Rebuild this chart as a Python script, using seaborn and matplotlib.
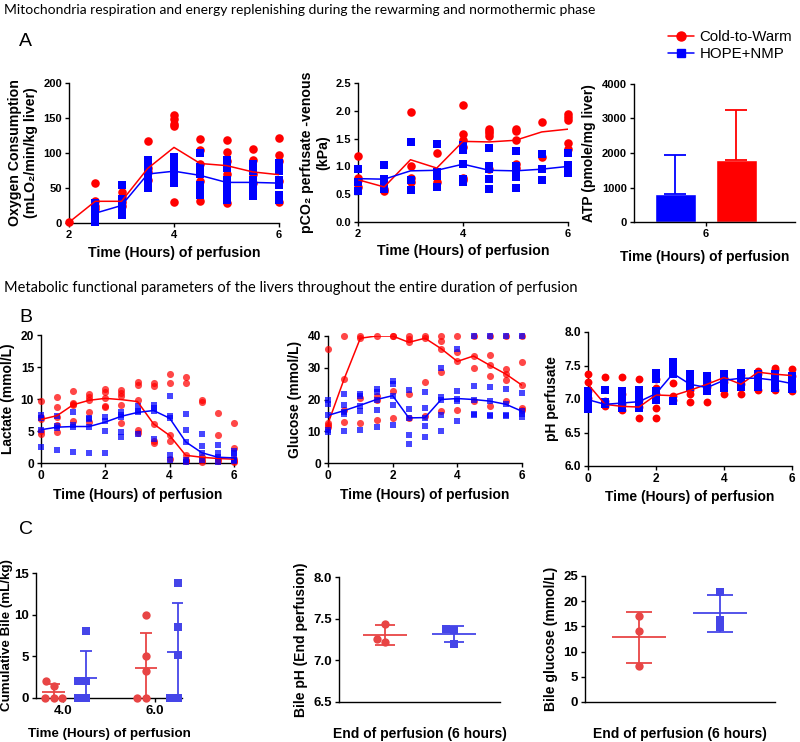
import numpy as np
import pandas as pd
import seaborn as sns
import matplotlib.pyplot as plt
from matplotlib.lines import Line2D
from matplotlib.ticker import FormatStrFormatter

RED = "#ff0000"
BLUE = "#0000ff"
C_RED = "#e84545"
C_BLUE = "#4545e8"

# ---- A: oxygen consumption, pCO2, ATP ----
t_a = [2, 2.5, 3, 3.5, 4, 4.5, 5, 5.5, 6]
o2_red_mean = [1, 31, 31, 78, 108, 85, 82, 73, 69]
o2_blue_mean = [np.nan, 14, 25, 70, 74, 68, 58, 58, 57]
o2_red = [[1], [57, 31, 25, 20], [44, 37, 30, 25], [117, 78, 73, 62],
          [154, 148, 142, 138, 30], [120, 104, 85, 60, 32], [118, 102, 88, 70, 28],
          [106, 90, 70, 57], [121, 97, 89, 60, 30]]
o2_blue = [[], [28, 20, 14, 8, 2], [55, 35, 25, 18, 12], [90, 80, 70, 58, 50],
           [95, 88, 78, 70, 62, 57], [100, 80, 70, 55, 45, 40], [90, 78, 62, 52, 40, 33],
           [85, 75, 62, 50, 42, 38], [86, 75, 62, 54, 40, 33]]

co2_red_mean = [0.76, 0.63, 1.12, 0.97, 1.45, 1.44, 1.47, 1.62, 1.67]
co2_blue_mean = [0.78, 0.77, 0.92, 0.93, 1.04, 0.93, 0.92, 0.95, 1.00]
co2_red = [[1.18, 0.79, 0.75, 0.63], [0.6, 0.56], [1.97, 1.01, 0.79, 0.72], [1.25, 0.72],
           [2.11, 1.59, 1.47, 1.35, 0.8, 0.75], [1.67, 1.64, 1.6, 1.55, 0.95],
           [1.67, 1.64, 1.47, 1.04, 0.98], [1.79, 1.17], [1.95, 1.88, 1.83, 1.42, 1.31]]
co2_blue = [[0.95, 0.72, 0.55], [1.03, 0.77, 0.72, 0.6], [1.44, 0.75, 0.58],
            [1.4, 0.9, 0.82, 0.63], [1.38, 1.3, 1.05, 0.77, 0.72], [1.33, 1.01, 0.95, 0.77, 0.59],
            [1.28, 1.01, 0.93, 0.81, 0.62], [1.23, 0.96, 0.75], [1.24, 1.03, 0.92, 0.88]]

atp_groups = ["HOPE+NMP", "Cold-to-Warm"]
atp_mean = [800, 1800]
atp_sd = [1150, 1460]

# ---- B: lactate, glucose, pH (0-6 h) ----
t_b = [0, 0.5, 1, 1.5, 2, 2.5, 3, 3.5, 4, 4.5, 5, 5.5, 6]
lac_red_mean = [6.8, 7.4, 9.1, 9.8, 10.1, 9.9, 9.6, 6.1, 4.3, 1.2, 0.9, 0.7, 0.6]
lac_blue_mean = [5.2, 5.6, 5.7, 5.7, 6.4, 7.3, 7.9, 8.2, 7.0, 3.3, 1.6, 0.9, 0.8]
lac_red = [[9.7, 7.2, 6.8, 5.0, 4.6], [10.3, 8.8, 7.2, 6.0, 4.8], [11.3, 9.4, 9.0, 9.2, 6.5],
           [10.8, 10.3, 9.9, 8.0, 6.4], [11.6, 11.1, 10.1, 8.9, 8.8], [11.4, 10.9, 10.4, 9.0, 6.3],
           [12.6, 12.2, 9.8, 5.2, 4.7], [12.5, 12.0, 6.1, 3.5, 3.1], [13.9, 12.5, 4.3, 3.4, 0.6],
           [13.4, 12.5, 1.2, 0.5, 0.3], [9.9, 9.6, 0.9, 0.5, 0.2], [7.8, 4.4, 0.7, 0.3],
           [6.3, 2.4, 0.6, 0.3, 0.1]]
lac_blue = [[7.5, 7.0, 5.2, 2.5], [7.3, 5.8, 5.5, 2.1], [8.0, 6.0, 5.6, 1.7], [7.0, 6.8, 5.6, 1.6],
            [7.2, 6.5, 5.0, 1.5], [7.9, 7.5, 7.2, 4.9, 4.1], [8.9, 8.2, 7.9, 4.6], [9.1, 8.6, 8.2, 3.8],
            [10.5, 7.3, 7.0, 1.3, 0.5], [7.7, 5.2, 3.3, 0.5, 0.2], [4.5, 2.6, 1.6, 0.4],
            [2.8, 1.6, 0.9, 0.2], [1.8, 1.5, 0.9, 0.5, 0.3]]

glu_red_mean = [12.4, 26.5, 39.3, 40, 40, 38, 39.3, 36, 32, 33.7, 30.8, 28, 24.5]
glu_blue_mean = [15.0, 16.5, 18.2, 20.0, 21.2, 14.2, 14.3, 20.0, 20.3, 20.0, 19.5, 18.5, 16.3]
glu_red = [[36, 12.5, 12.0, 11.2], [40, 26.5, 16.8, 12.8], [40, 39.5, 20.5, 12.6], [40, 21.0, 20.0, 13.6],
           [40, 40, 22.7, 14.2], [40, 39, 38, 21.8, 14.2], [40, 39.5, 25.4, 14.8],
           [40, 38.5, 36, 28.8, 16.4], [40, 35, 32, 16.7], [40, 33.7, 29.8, 19.6],
           [40, 34, 30.8, 27.4, 17.8], [40, 29.6, 28, 26, 19.4], [40, 31.8, 24.5, 17.4, 16.6]]
glu_blue = [[20, 18.5, 15, 10.5, 9.8], [21.7, 18.3, 16, 15.5, 10.2], [21.8, 21, 18, 16.5, 10.4],
            [23.2, 22.4, 20, 16.8, 11.4], [25.8, 24.8, 21.2, 18.4, 12], [23.1, 17, 14.2, 8.8, 6],
            [22.5, 17.3, 14.3, 11.8, 8.3], [29.8, 20.8, 20, 15.2, 10.2], [36, 22.8, 20.3, 19.5, 13.3],
            [40, 24.2, 20, 15.5, 15], [40, 24, 19.5, 15, 14.8], [40, 23.4, 18.5, 15, 14.8],
            [40, 22, 16.3, 15.5, 14.5]]

ph_red_mean = [7.22, 6.92, 6.89, 6.88, 7.06, 7.05, 7.13, 7.22, 7.32, 7.22, 7.40, 7.37, 7.35]
ph_blue_mean = [6.99, 6.92, 6.94, 6.96, 7.08, 7.38, 7.22, 7.17, 7.28, 7.31, 7.31, 7.28, 7.23]
ph_red = [[7.37, 7.26, 7.12, 7.02], [7.33, 6.97, 6.92, 6.89], [7.33, 7.07, 6.92, 6.83],
          [7.30, 6.98, 6.88, 6.72], [7.30, 7.17, 7.08, 6.86, 6.71], [7.24, 7.05, 6.98],
          [7.13, 7.08, 6.95], [7.27, 7.18, 6.95], [7.32, 7.26, 7.07], [7.36, 7.22, 7.07],
          [7.42, 7.38, 7.14], [7.46, 7.44, 7.13], [7.45, 7.35, 7.12]]
ph_blue = [[7.12, 7.08, 7.0, 6.9, 6.85], [7.13, 6.95, 6.92], [7.12, 7.05, 6.96, 6.9, 6.87],
           [7.14, 7.05, 6.98, 6.92, 6.87], [7.39, 7.3, 7.12, 7.05, 6.98], [7.55, 7.45, 7.38, 6.97],
           [7.38, 7.32, 7.22, 7.18], [7.35, 7.27, 7.18, 7.12], [7.38, 7.3, 7.22, 7.17],
           [7.39, 7.33, 7.27, 7.18], [7.38, 7.3, 7.25, 7.18], [7.37, 7.3, 7.22, 7.16],
           [7.35, 7.28, 7.2, 7.15]]

# ---- C: bile ----
bile_times = ["4.0", "6.0"]
bile_red = [[0, 0, 0, 1.5, 2.0], [10.0, 5.0, 3.2, 0, 0]]
bile_blue = [[8.0, 2.0, 2.0, 0, 0], [13.8, 8.5, 5.2, 0, 0]]
bile_ph_red = [7.44, 7.22, 7.26]
bile_ph_blue = [7.38, 7.36, 7.20]
bile_glu_red = [17.1, 14.1, 7.2]
bile_glu_blue = [21.8, 16.3, 14.8]

sns.set_style("ticks")
plt.rcParams["font.family"] = ["Liberation Sans", "DejaVu Sans"]
plt.rcParams["font.weight"] = "bold"
plt.rcParams["axes.labelweight"] = "bold"
plt.rcParams["axes.edgecolor"] = "black"
plt.rcParams["axes.labelcolor"] = "black"
plt.rcParams["text.color"] = "black"
plt.rcParams["xtick.color"] = "black"
plt.rcParams["ytick.color"] = "black"
plt.rcParams["axes.linewidth"] = 1.0
plt.rcParams["xtick.major.width"] = 1.0
plt.rcParams["ytick.major.width"] = 1.0
plt.rcParams["xtick.major.size"] = 3
plt.rcParams["ytick.major.size"] = 3

fig = plt.figure(figsize=(8, 7.42), dpi=100)
W, H = 800, 742


def add_ax(x0, y0, x1, y1):
    # pixel box -> figure fraction
    return fig.add_axes([x0 / W, 1 - y1 / H, (x1 - x0) / W, (y1 - y0) / H])


def long_df(times, groups):
    rows = [(t, v) for t, vals in zip(times, groups) for v in vals]
    return pd.DataFrame(rows, columns=["t", "v"])


def time_panel(ax, times, red_pts, blue_pts, red_mean, blue_mean, size, alpha):
    for pts, col, mk, s in [(red_pts, RED, "o", size), (blue_pts, BLUE, "s", size * 0.8)]:
        sns.scatterplot(data=long_df(times, pts), x="t", y="v", color=col, marker=mk,
                        s=s, alpha=alpha, linewidth=0, clip_on=False, ax=ax, zorder=3)
    for mean, col in [(red_mean, RED), (blue_mean, BLUE)]:
        sns.lineplot(x=times, y=mean, color=col, lw=1.1, ax=ax, zorder=4)


def finish(ax, xlabel, ylabel, yticks, xticks=None, tick_fs=8, lab_fs=10, yfmt=None):
    sns.despine(ax=ax)
    ax.set_xlabel(xlabel, fontsize=lab_fs)
    ax.set_ylabel(ylabel, fontsize=lab_fs)
    ax.set_yticks(yticks)
    ax.set_ylim(yticks[0], yticks[-1])
    if xticks is not None:
        ax.set_xticks(xticks)
        ax.set_xlim(xticks[0], xticks[-1])
    if yfmt:
        ax.yaxis.set_major_formatter(FormatStrFormatter(yfmt))
    ax.tick_params(labelsize=tick_fs, pad=2)


# A1
ax = add_ax(69, 83, 279, 223)
time_panel(ax, t_a, o2_red, o2_blue, o2_red_mean, o2_blue_mean, 38, 1)
finish(ax, "Time (Hours) of perfusion", "Oxygen Consumption\n(mLO\u2082/min/kg liver)",
       [0, 50, 100, 150, 200], [2, 4, 6], lab_fs=10.2)

# A2
ax = add_ax(358, 83, 568, 222)
time_panel(ax, t_a, co2_red, co2_blue, co2_red_mean, co2_blue_mean, 38, 1)
finish(ax, "Time (Hours) of perfusion", "pCO\u2082 perfusate -venous\n(kPa)",
       [0, 0.5, 1.0, 1.5, 2.0, 2.5], [2, 4, 6], lab_fs=10.2, yfmt="%.1f")

# A3
ax = add_ax(634, 84, 795, 222)
sns.barplot(x=atp_groups, y=atp_mean, hue=atp_groups, palette=[BLUE, RED], width=0.67,
            saturation=1, legend=False, ax=ax)
for i, (m, sd, c) in enumerate(zip(atp_mean, atp_sd, [BLUE, RED])):
    ax.errorbar(i, m, yerr=[[0], [sd]], color=c, capsize=8, lw=1.3, capthick=1.3)
finish(ax, "Time (Hours) of perfusion", "ATP (pmole/mg liver)",
       [0, 1000, 2000, 3000, 4000], lab_fs=10.0)
ax.set_xticks([0.5], ["6"])
ax.set_xlim(-0.68, 1.96)
ax.xaxis.set_label_coords(0.44, -0.2)

# B1-B3
ax = add_ax(41, 335, 234, 463)
time_panel(ax, t_b, lac_red, lac_blue, lac_red_mean, lac_blue_mean, 26, 0.72)
finish(ax, "Time (Hours) of perfusion", "Lactate (mmol/L)", [0, 5, 10, 15, 20], [0, 2, 4, 6],
       tick_fs=8.6)

ax = add_ax(328, 336, 522, 463)
time_panel(ax, t_b, glu_red, glu_blue, glu_red_mean, glu_blue_mean, 26, 0.72)
finish(ax, "Time (Hours) of perfusion", "Glucose (mmol/L)", [0, 10, 20, 30, 40], [0, 2, 4, 6],
       tick_fs=8.6)

ax = add_ax(588, 332, 792, 466)
time_panel(ax, t_b, ph_red, ph_blue, ph_red_mean, ph_blue_mean, 32, 1)
finish(ax, "Time (Hours) of perfusion", "pH perfusate", [6.0, 6.5, 7.0, 7.5, 8.0], [0, 2, 4, 6],
       tick_fs=8.6, yfmt="%.1f")


def mean_sd(ax, pos, vals, col, mk, hw, cap):
    sns.swarmplot(x=np.full(len(vals), pos), y=vals, native_scale=True, orient="v", color=col,
                  marker=mk, size=6 if mk == "o" else 5.4, ax=ax, clip_on=False, zorder=3)
    m, sd = np.mean(vals), np.std(vals, ddof=1)
    ax.hlines(m, pos - hw, pos + hw, color=col, lw=1.3)
    ax.errorbar(pos, m, yerr=sd, color=col, capsize=cap, lw=1.3, capthick=1.3)


# C1
ax = add_ax(36, 573, 182, 698)
for i in range(len(bile_times)):
    mean_sd(ax, i - 0.1, bile_red[i], C_RED, "o", 0.12, 4.3)
    mean_sd(ax, i + 0.25, bile_blue[i], C_BLUE, "s", 0.12, 4.3)
finish(ax, "Time (Hours) of perfusion", "Cumulative Bile (mL/kg)", [0, 5, 10, 15],
       tick_fs=9.5, lab_fs=9.6)
ax.set_xticks([0, 1], bile_times)
ax.set_xlim(-0.29, 1.29)
ax.yaxis.labelpad = 1
ax.xaxis.labelpad = 8

# C2
ax = add_ax(339, 577, 500, 702)
mean_sd(ax, 0, bile_ph_red, C_RED, "o", 0.32, 7.5)
mean_sd(ax, 1, bile_ph_blue, C_BLUE, "s", 0.32, 7.5)
finish(ax, "End of perfusion (6 hours)", "Bile pH (End perfusion)", [6.5, 7.0, 7.5, 8.0],
       tick_fs=9.5, yfmt="%.1f")
ax.set_xticks([])
ax.set_xlim(-0.667, 1.667)
ax.xaxis.labelpad = 18

# C3
ax = add_ax(585, 576, 775, 702)
mean_sd(ax, 0, bile_glu_red, C_RED, "o", 0.33, 9.7)
mean_sd(ax, 1, bile_glu_blue, C_BLUE, "s", 0.33, 9.7)
finish(ax, "End of perfusion (6 hours)", "Bile glucose (mmol/L)", [0, 5, 10, 15, 20, 25],
       tick_fs=9.5)
ax.set_xticks([])
ax.set_xlim(-0.667, 1.68)
ax.xaxis.labelpad = 18

# legend
handles = [Line2D([], [], color=RED, marker="o", lw=1.1, ms=6.5, label="Cold-to-Warm"),
           Line2D([], [], color=BLUE, marker="s", lw=1.1, ms=5.8, label="HOPE+NMP")]
fig.legend(handles=handles, loc="upper left", bbox_to_anchor=(668 / W, 1 - 30 / H),
           frameon=False, prop={"weight": "normal", "size": 10.8}, handlelength=1.7,
           labelspacing=0.2, borderpad=0, borderaxespad=0, handletextpad=0.4)

# headings and panel letters
fig.text(4 / W, 1 - 10 / H,
         "Mitochondria respiration and energy replenishing during the rewarming and normothermic phase",
         family="Lato", weight="normal", fontsize=10.0, va="center")
fig.text(4 / W, 1 - 288 / H,
         "Metabolic functional parameters of the livers throughout the entire duration of perfusion",
         family="Lato", weight="normal", fontsize=10.5, va="center")
for letter, x, y in [("A", 25, 42), ("B", 26, 318), ("C", 26, 530)]:
    fig.text(x / W, 1 - y / H, letter, fontsize=14, weight="normal", ha="center", va="center")

fig.savefig("out.png", dpi=100)
